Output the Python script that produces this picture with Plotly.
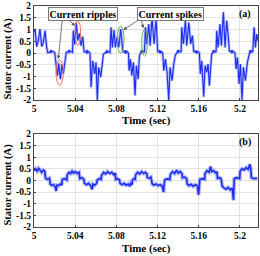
import plotly.graph_objects as go

# ---------------- data: panel (a) ----------------
t_a = [
    5.0000, 5.0010, 5.0026, 5.0042, 5.0058, 5.0075, 5.0091, 5.0107, 5.0123,
    5.0133, 5.0159, 5.0162, 5.0165, 5.0168, 5.0171, 5.0174, 5.0201,
    5.0214, 5.0227, 5.0240, 5.0256, 5.0272, 5.0285, 5.0301,
    5.0314, 5.0335, 5.0338, 5.0341, 5.0344, 5.0347, 5.0350, 5.0373,
    5.0382, 5.0395, 5.0411, 5.0424, 5.0441, 5.0457, 5.0473,
    5.0486, 5.0507, 5.0510, 5.0513, 5.0516, 5.0519, 5.0522, 5.0544,
    5.0554, 5.0570, 5.0589, 5.0602, 5.0615, 5.0628, 5.0648, 5.0661,
    5.0674, 5.0698, 5.0701, 5.0704, 5.0707, 5.0710, 5.0713, 5.0738,
    5.0748, 5.0761, 5.0777, 5.0790, 5.0806, 5.0823, 5.0842,
    5.0862, 5.0882, 5.0885, 5.0888, 5.0891, 5.0894, 5.0897, 5.0917,
    5.0923, 5.0936, 5.0949, 5.0965, 5.0981, 5.0994, 5.1011,
    5.1024, 5.1040, 5.1043, 5.1046, 5.1049, 5.1052, 5.1055, 5.1072,
    5.1082, 5.1095, 5.1114, 5.1127, 5.1146, 5.1166, 5.1185,
    5.1201, 5.1217, 5.1220, 5.1223, 5.1226, 5.1229, 5.1232, 5.1250,
    5.1260, 5.1276, 5.1292, 5.1308, 5.1321, 5.1341, 5.1357,
    5.1373, 5.1392, 5.1395, 5.1398, 5.1401, 5.1404, 5.1407, 5.1428,
    5.1435, 5.1451, 5.1470, 5.1483, 5.1503, 5.1522, 5.1538,
    5.1551, 5.1570, 5.1573, 5.1576, 5.1579, 5.1582, 5.1585, 5.1606,
    5.1615, 5.1628, 5.1648, 5.1661, 5.1677, 5.1690, 5.1703, 5.1716,
    5.1725, 5.1738, 5.1741, 5.1744, 5.1747, 5.1750, 5.1753, 5.1768,
    5.1774, 5.1787, 5.1806, 5.1819, 5.1839, 5.1855, 5.1871, 5.1887,
    5.1897, 5.1916, 5.1919, 5.1922, 5.1925, 5.1928, 5.1931, 5.1952,
    5.1962, 5.1975, 5.1991, 5.2004, 5.2020, 5.2033, 5.2053, 5.2072,
    5.2085, 5.2096, 5.2099, 5.2102, 5.2105, 5.2108, 5.2111, 5.2124,
    5.2137, 5.2150, 5.2163, 5.2173,
]
i_a = [
    0.88, 1.02, 0.27, 0.52, 1.02, 0.27, 0.45, 0.95, 0.24,
    0.02, 0.04, 0.12, -0.01, 0.12, 0.00, 0.08, 0.02,
    -0.44, -0.96, -0.44, -1.11, -0.47, -0.89, -0.35,
    0.03, 0.05, 0.13, -0.01, 0.11, 0.00, 0.09, 0.03,
    0.95, 0.355, 1.30, 0.53, 0.84, 0.31, 0.70,
    0.05, 0.04, 0.12, -0.02, 0.12, 0.01, 0.08, 0.00,
    -1.46, -0.33, -0.89, -0.40, -2.00, -0.61, -1.03, -0.54,
    -0.05, 0.03, 0.12, -0.01, 0.13, 0.00, 0.08, 0.02,
    1.09, 0.24, 0.98, 0.24, 0.67, 0.24, 1.02,
    0.06, 0.04, 0.12, -0.02, 0.11, 0.00, 0.09, 0.00,
    -0.75, -0.26, -0.96, -0.40, -1.81, -0.54, -1.11,
    -0.10, 0.03, 0.12, -0.01, 0.12, 0.00, 0.08, 0.03,
    1.09, 0.38, 1.23, 0.31, 1.49, 0.38, 1.45,
    0.06, 0.04, 0.13, -0.02, 0.12, 0.01, 0.08, 0.00,
    -0.75, -0.26, -0.82, -2.00, -0.61, -1.18, -0.47,
    -0.08, 0.03, 0.12, -0.01, 0.12, 0.00, 0.09, 0.03,
    1.09, 0.38, 1.38, 0.31, 1.30, 0.38, 0.74,
    0.06, 0.04, 0.12, -0.02, 0.12, 0.01, 0.08, 0.00,
    -0.89, -0.33, -1.86, -0.54, -0.82, -0.47, -1.39, -0.33,
    -0.05, 0.03, 0.12, -0.01, 0.12, 0.00, 0.08, 0.03,
    0.95, 0.24, 1.23, 0.31, 1.73, 0.24, 1.38, 0.67,
    0.08, 0.04, 0.12, -0.02, 0.12, 0.01, 0.08, 0.00,
    -0.68, -0.18, -1.32, -0.47, -2.00, -0.61, -1.18, -0.40,
    -0.08, 0.03, 0.12, -0.01, 0.12, 0.00, 0.08, 0.03,
    1.09, 0.24, 0.81, 0.52,
]

# ---------------- data: panel (b) ----------------
t_b = [
    5.0000, 5.0015, 5.0030, 5.0045, 5.0060, 5.0075, 5.0090, 5.0105,
    5.0112, 5.0130, 5.0150,
    5.0158, 5.0175, 5.0190, 5.0205, 5.0215, 5.0222, 5.0240, 5.0255, 5.0270,
    5.0275, 5.0295, 5.0318,
    5.0323, 5.0340, 5.0355, 5.0370, 5.0385, 5.0400, 5.0420, 5.0438,
    5.0444, 5.0465, 5.0485,
    5.0490, 5.0510, 5.0530, 5.0550, 5.0565, 5.0572, 5.0590, 5.0608,
    5.0614, 5.0635, 5.0652,
    5.0656, 5.0675, 5.0695, 5.0715, 5.0735, 5.0755, 5.0775, 5.0790,
    5.0793, 5.0812, 5.0830,
    5.0835, 5.0855, 5.0875, 5.0895, 5.0915, 5.0930, 5.0940, 5.0952,
    5.0956, 5.0970, 5.0983,
    5.0987, 5.1005, 5.1025, 5.1045, 5.1065, 5.1080, 5.1096,
    5.1100, 5.1118, 5.1135,
    5.1148, 5.1165, 5.1185, 5.1205, 5.1225, 5.1245, 5.1258, 5.1263,
    5.1270, 5.1295, 5.1318,
    5.1326, 5.1345, 5.1365, 5.1385, 5.1400, 5.1420, 5.1437,
    5.1441, 5.1460, 5.1480,
    5.1488, 5.1505, 5.1525, 5.1545, 5.1565, 5.1585, 5.1598, 5.1602,
    5.1610, 5.1635, 5.1657,
    5.1660, 5.1680, 5.1700, 5.1715, 5.1725, 5.1745, 5.1765, 5.1777,
    5.1781, 5.1800, 5.1816,
    5.1828, 5.1845, 5.1865, 5.1885, 5.1905, 5.1925, 5.1937, 5.1941,
    5.1945, 5.1970, 5.1997,
    5.2001, 5.2020, 5.2040, 5.2060, 5.2080, 5.2095, 5.2105,
    5.2111, 5.2140, 5.2168,
]
i_b = [
    0.42, 0.50, 0.40, 0.52, 0.44, 0.35, 0.45, 0.40,
    0.10, 0.05, 0.10,
    -0.15, -0.22, -0.18, -0.25, -0.45, -0.20, -0.22, -0.15, -0.20,
    0.05, 0.08, 0.02,
    0.25, 0.35, 0.30, 0.40, 0.32, 0.38, 0.30, 0.35,
    0.08, 0.12, 0.05,
    -0.12, -0.18, -0.12, -0.22, -0.38, -0.15, -0.20, -0.12,
    0.02, 0.08, 0.05,
    0.22, 0.35, 0.28, 0.38, 0.30, 0.35, 0.25, 0.32,
    0.05, 0.08, 0.02,
    -0.12, -0.18, -0.12, -0.20, -0.15, -0.25, -0.12, -0.18,
    0.02, 0.08, 0.05,
    0.25, 0.35, 0.28, 0.38, 0.30, 0.35, 0.28,
    0.12, 0.10, 0.15,
    -0.15, -0.20, -0.15, -0.22, -0.18, -0.25, -0.50, -0.18,
    0.03, 0.07, 0.04,
    0.28, 0.38, 0.30, 0.45, 0.32, 0.38, 0.30,
    0.12, 0.15, 0.10,
    -0.15, -0.22, -0.16, -0.25, -0.18, -0.22, -0.62, -0.15,
    0.05, 0.08, 0.05,
    0.30, 0.42, 0.35, 0.60, 0.38, 0.42, 0.32, 0.38,
    0.10, 0.12, 0.08,
    -0.25, -0.32, -0.38, -0.30, -0.40, -0.33, -0.85, -0.35,
    0.08, 0.12, 0.08,
    0.40, 0.50, 0.45, 0.55, 0.48, 0.70, 0.50,
    0.12, 0.08, 0.10,
]

x_ticks = [5, 5.04, 5.08, 5.12, 5.16, 5.2]
x_tick_labels = ["5", "5.04", "5.08", "5.12", "5.16", "5.2"]
y_ticks = [-2, -1.5, -1, -0.5, 0, 0.5, 1, 1.5, 2]
y_tick_labels = ["-2", "-1.5", "-1", "-0.5", "0", "0.5", "1", "1.5", "2"]

FONT = "Liberation Serif"
MAIN = "#1d2cf0"
HALO = "rgba(110,125,255,0.5)"

fig = go.Figure()
for tt, ii, ax, hw, mw in [(t_a, i_a, ("x", "y"), 2.8, 1.1),
                           (t_b, i_b, ("x2", "y2"), 4.0, 1.6)]:
    fig.add_trace(go.Scatter(x=tt, y=ii, mode="lines", xaxis=ax[0], yaxis=ax[1],
                             line=dict(color=HALO, width=hw), hoverinfo="skip",
                             showlegend=False))
    fig.add_trace(go.Scatter(x=tt, y=ii, mode="lines", xaxis=ax[0], yaxis=ax[1],
                             line=dict(color=MAIN, width=mw), showlegend=False))

tickfont = dict(family=FONT, size=9.5, color="black", weight="bold")
xax = dict(range=[5, 5.2175], tickvals=x_ticks, ticktext=x_tick_labels,
           showgrid=True, gridcolor="#e3e3e3", gridwidth=1, zeroline=False,
           showline=True, linecolor="#444", linewidth=1, mirror=True,
           ticks="inside", ticklen=2, tickcolor="#444", tickfont=tickfont)
yax = dict(range=[-2, 2], tickvals=y_ticks, ticktext=y_tick_labels,
           showgrid=True, gridcolor="#e3e3e3", gridwidth=1, zeroline=False,
           showline=True, linecolor="#444", linewidth=1, mirror=True,
           ticks="inside", ticklen=2, tickcolor="#444", tickfont=tickfont)

fig.update_layout(
    width=260, height=256,
    margin=dict(l=34, r=2, t=6, b=29),
    paper_bgcolor="white", plot_bgcolor="white",
    xaxis=dict(xax, domain=[0, 1], anchor="y"),
    yaxis=dict(yax, domain=[0.5747, 1.0], anchor="x"),
    xaxis2=dict(xax, domain=[0, 1], anchor="y2"),
    yaxis2=dict(yax, domain=[0.0, 0.4208], anchor="x2"),
)

tfont = dict(family=FONT, size=11, color="black", weight="bold")
ann = []
# axis titles
ann.append(dict(text="Time (sec)", xref="paper", yref="paper", x=0.5, y=0.484,
                xanchor="center", yanchor="middle", showarrow=False, font=tfont))
ann.append(dict(text="Time (sec)", xref="paper", yref="paper", x=0.5, y=-0.097,
                xanchor="center", yanchor="middle", showarrow=False, font=tfont))
yfont = dict(family=FONT, size=10.5, color="black", weight="bold")
ann.append(dict(text="Stator current (A)", xref="paper", yref="paper", x=-0.118, y=0.76,
                textangle=-90, xanchor="center", yanchor="middle", showarrow=False, font=yfont))
ann.append(dict(text="Stator current (A)", xref="paper", yref="paper", x=-0.118, y=0.19,
                textangle=-90, xanchor="center", yanchor="middle", showarrow=False, font=yfont))
# panel labels
pfont = dict(family=FONT, size=10, color="black", weight="bold")
ann.append(dict(text="(a)", xref="x", yref="y", x=5.2045, y=1.66, showarrow=False,
                xanchor="center", yanchor="middle", font=pfont))
ann.append(dict(text="(b)", xref="x2", yref="y2", x=5.2045, y=1.66, showarrow=False,
                xanchor="center", yanchor="middle", font=pfont))
# callout boxes
bfont = dict(family=FONT, size=10, color="black", weight="bold")
ann.append(dict(text="Current ripples", xref="x", yref="y", x=5.0477, y=1.66,
                showarrow=False, xanchor="center", yanchor="middle", font=bfont,
                bordercolor="#777", borderwidth=1, borderpad=0.5, bgcolor="white"))
ann.append(dict(text="Current spikes", xref="x", yref="y", x=5.1325, y=1.66,
                showarrow=False, xanchor="center", yanchor="middle", font=bfont,
                bordercolor="#777", borderwidth=1, borderpad=0.5, bgcolor="white"))
# arrows
arrows = [((5.0275, 1.45), (5.0236, -0.26)),
          ((5.0330, 1.45), (5.0398, 1.15)),
          ((5.1030, 1.45), (5.0867, 0.98)),
          ((5.1040, 1.45), (5.1062, 1.05))]
for (tx, ty), (hx, hy) in arrows:
    ann.append(dict(text="", x=hx, y=hy, ax=tx, ay=ty, xref="x", yref="y",
                    axref="x", ayref="y", showarrow=True, arrowhead=2,
                    arrowsize=0.9, arrowwidth=0.8, arrowcolor="#555"))
fig.update_layout(annotations=ann)

# ellipses
ellipses = [(5.0214, 5.0285, -1.36, -0.30, "#ee6f66"),
            (5.0398, 5.0453, 0.34, 1.37, "#ee6f66"),
            (5.0809, 5.0874, -0.01, 1.15, "#63b04f"),
            (5.1046, 5.1100, -0.13, 1.01, "#63b04f")]
for x0, x1, y0, y1, c in ellipses:
    fig.add_shape(type="circle", xref="x", yref="y", x0=x0, x1=x1, y0=y0, y1=y1,
                  line=dict(color=c, width=1))

fig.write_html("out.html", config={"displayModeBar": False},
               post_script="document.body.style.margin='0';")
